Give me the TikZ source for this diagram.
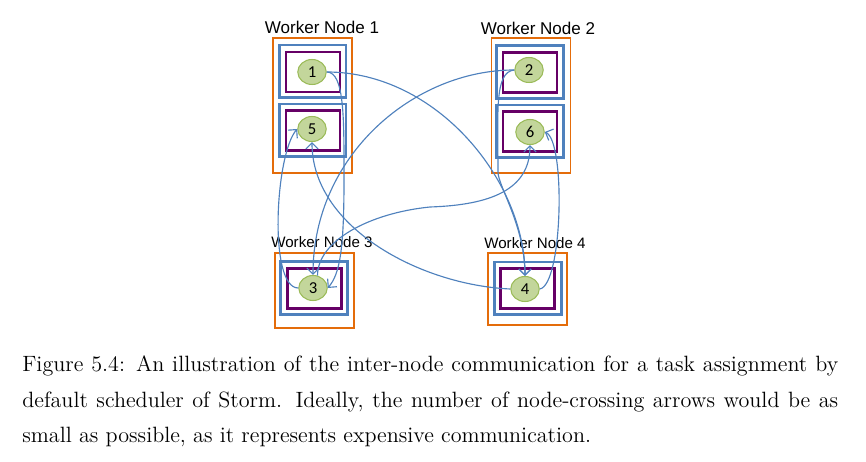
\documentclass[tikz,border=0pt]{standalone}
\usepackage{fontspec}
\newfontfamily\arialfont{Liberation Sans}
\newfontfamily\calfont{Carlito}
\usetikzlibrary{arrows.meta,shapes.geometric}
\definecolor{wnorange}{RGB}{228,108,10}
\definecolor{slotblue}{RGB}{79,129,189}
\definecolor{execpurple}{RGB}{102,0,102}
\definecolor{taskfill}{RGB}{195,214,155}
\definecolor{taskedge}{RGB}{155,187,89}
\begin{document}
\begin{tikzpicture}[x=0.02cm, y=-0.02cm,
  worker/.style={draw=wnorange, line width=1.1pt, inner sep=0pt, minimum width=1.58cm},
  slot/.style={draw=slotblue, line width=1.7pt, inner sep=0pt, minimum width=1.34cm, minimum height=1.06cm},
  exec/.style={draw=execpurple, line width=1.3pt, inner sep=0pt, minimum width=1.08cm, minimum height=0.8cm},
  task/.style={ellipse, draw=taskedge, fill=taskfill, line width=0.6pt, inner sep=0pt, minimum width=0.57cm, minimum height=0.5cm, font=\calfont\fontsize{9.5}{10}\selectfont},
  wlabel/.style={inner sep=0pt, font=\arialfont\fontsize{9.7}{11}\selectfont},
  msg/.style={draw=slotblue, line width=0.65pt, -{Straight Barb[length=3.5pt,width=7pt]}},
  captext/.style={anchor=base west, inner sep=0pt, font=\fontsize{12.6}{15}\selectfont}]
\useasboundingbox (0,0) rectangle (866,462);
\node[wlabel] (wl1) at (322,27){Worker Node 1};
\node[worker, minimum height=2.7cm] (wn1) at (312.5,105.5){};
\node[slot] (s1) at (312.5,71.5){};
\node[exec] (e1) at (313,72){};
\node[task] (t1) at (312,72){1};
\node[slot] (s5) at (312.5,130.5){};
\node[exec] (e5) at (313,130.5){};
\node[task] (t5) at (312,129){5};
\node[wlabel] (wl2) at (538,28){Worker Node 2};
\node[worker, minimum height=2.7cm] (wn2) at (531,105.5){};
\node[slot] (s2) at (530,72){};
\node[exec] (e2) at (530,72.5){};
\node[task] (t2) at (529,70){2};
\node[slot] (s6) at (530,131.5){};
\node[exec] (e6) at (530,131.5){};
\node[task] (t6) at (530,132){6};
\node[wlabel, font=\arialfont\fontsize{8.6}{10}\selectfont] (wl3) at (322,242){Worker Node 3};
\node[worker, minimum height=1.5cm] (wn3) at (314.5,290.5){};
\node[slot] (s3) at (314,288){};
\node[exec] (e3) at (314.5,288.5){};
\node[task] (t3) at (313,288){3};
\node[wlabel, font=\arialfont\fontsize{8.6}{10}\selectfont] (wl4) at (535,243){Worker Node 4};
\node[worker, minimum height=1.44cm] (wn4) at (527.5,289){};
\node[slot] (s4) at (528,288.5){};
\node[exec] (e4) at (527.5,288.5){};
\node[task] (t4) at (525,289){4};
\coordinate (w13) at (344,180);
\coordinate (w24) at (498,172);
\coordinate (w36) at (430,207);
\draw[msg](t1.east) .. controls +(110,0) and +(0,-95) .. (t4.north);
\draw[msg](t2.west) .. controls +(-20,2) and +(0,-60) .. (w24) .. controls +(0,14) and +(0,-50) .. (t4.north);
\draw[msg](t2.west) .. controls +(-100,0) and +(0,-120) .. (t3.north);
\draw[msg](t1.east) .. controls +(18,0) and +(0,-60) .. (w13) .. controls +(0,70) and +(12,-14) .. (t3.east);
\draw[msg](t3.west) .. controls +(-30,0) and +(-22,25) .. (t5.west);
\draw[msg](t4.west) .. controls +(-90,-4) and +(0,85) .. (t5.south);
\draw[msg](t3.70) .. controls +(0,-35) and +(-60,6) .. (w36) .. controls +(60,-2) and +(0,45) .. (t6.south);
\draw[msg](t4.east) .. controls +(23,-4) and +(21,9) .. (t6.east);
\node[captext] (cap1) at (22,372){\makebox[16.32cm][s]{Figure 5.4: An illustration of the inter-node communication for a task assignment by}};
\node[captext] (cap2) at (22,408){\makebox[16.32cm][s]{default scheduler of Storm. Ideally, the number of node-crossing arrows would be as}};
\node[captext] (cap3) at (22,443){small as possible, as it represents expensive communication.};
\end{tikzpicture}
\end{document}
